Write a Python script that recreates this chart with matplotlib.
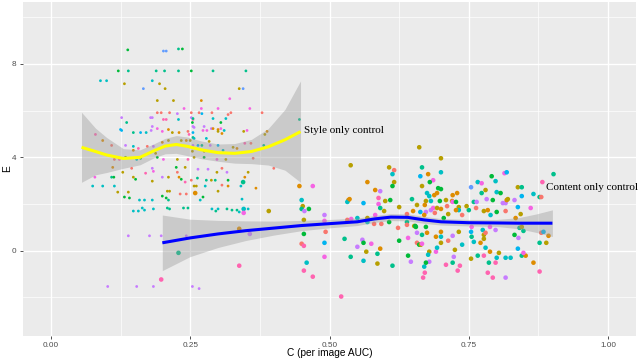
import matplotlib
matplotlib.use("Agg")
import matplotlib.pyplot as plt
import numpy as np

palette = ["#F8766D", "#DE8C00", "#B79F00", "#7CAE00", "#00BA38", "#00C08B",
           "#00BFC4", "#00B4F0", "#619CFF", "#C77CFF", "#F564E3", "#FF64B0"]

# ---- style-only points (small) ----
style_x = [0.138,0.202,0.207,0.229,0.236,0.121,0.139,0.189,0.204,0.229,0.252,0.291,0.350,0.089,0.100,
 0.132,0.182,0.195,0.166,0.205,0.338,0.345,0.191,0.220,0.270,0.321,0.239,0.270,0.300,0.357,
 0.191,0.198,0.213,0.227,0.252,0.266,0.289,0.323,0.318,0.379,0.271,0.127,0.179,0.182,0.202,
 0.207,0.229,0.252,0.255,0.255,0.291,0.314,0.136,0.254,0.305,0.446,0.182,0.191,0.211,0.125,
 0.255,0.275,0.288,0.305,0.300,
 0.127,0.148,0.161,0.171,0.180,0.200,0.218,0.230,0.246,0.255,0.248,0.080,0.093,0.109,0.134,
 0.148,0.157,0.173,0.184,0.200,0.211,0.234,0.243,0.250,0.255,0.148,0.188,0.134,0.123,0.114,
 0.154,0.161,0.191,0.202,0.227,0.246,0.111,0.145,0.182,0.184,0.129,0.225,0.241,0.227,0.264,
 0.079,0.109,0.113,0.148,0.152,0.170,0.182,0.211,0.230,0.234,0.252,0.241,0.200,0.075,0.093,
 0.114,0.120,0.139,0.209,0.213,0.257,0.132,0.141,0.159,0.168,0.182,0.200,0.207,0.211,0.232,
 0.243,0.148,0.157,0.164,0.168,0.184,0.209,0.213,0.238,0.246,
 0.257,0.273,0.280,0.291,0.300,0.311,0.307,0.346,0.352,0.388,0.384,0.257,0.279,0.284,0.255,
 0.264,0.271,0.286,0.300,0.309,0.327,0.334,0.348,0.359,0.382,0.254,0.275,0.275,0.257,0.298,
 0.314,0.363,0.282,0.298,0.307,0.316,0.354,0.400,0.263,0.279,0.288,0.295,0.318,0.348,0.307,
 0.318,0.341,0.261,0.277,0.300,0.368,0.273,0.268,0.343,0.289,0.296,0.300,0.316,0.325,0.334,
 0.338,0.354,
 0.139,0.177,0.198,0.243,0.102,0.154,0.184,0.254,0.266]
style_y = [8.60,8.55,8.55,8.64,8.64,7.70,7.70,7.70,7.70,7.70,7.70,7.70,7.70,7.28,7.28,
 7.15,7.28,7.15,6.94,6.94,6.94,6.94,6.43,6.43,6.43,6.51,6.09,6.09,6.09,6.09,
 5.91,5.91,5.91,5.87,5.91,5.91,5.91,5.91,5.83,5.91,5.87,5.70,5.70,5.70,5.62,
 5.62,5.62,5.70,5.62,5.66,5.66,5.66,5.49,5.49,5.49,5.62,5.32,5.23,5.19,5.19,
 5.32,5.32,5.23,5.23,5.19,
 5.15,5.06,5.06,5.06,5.15,5.11,5.06,5.06,5.11,5.06,4.98,4.98,4.72,4.51,4.51,
 4.47,4.38,4.47,4.47,4.64,4.72,4.72,4.72,4.72,4.85,4.30,4.17,4.00,3.91,3.91,
 3.91,3.96,4.00,3.91,3.91,3.91,3.57,3.53,3.53,3.40,3.36,3.57,3.57,3.36,3.49,
 3.15,3.15,3.15,3.15,3.06,3.32,2.98,3.15,3.15,3.06,3.02,2.94,3.15,2.77,2.77,
 2.77,2.51,2.51,2.55,2.55,2.77,2.30,2.26,2.17,2.17,2.17,2.34,2.26,2.17,2.43,
 2.43,1.70,1.70,1.83,1.74,1.79,1.83,1.79,1.83,1.83,
 5.28,5.15,5.15,5.23,5.11,5.15,5.02,5.11,5.15,5.11,4.98,4.81,4.81,4.68,4.51,
 4.51,4.51,4.51,4.51,4.30,4.43,4.38,4.60,4.60,4.51,4.26,4.26,4.00,4.00,3.91,
 3.91,3.96,3.49,3.36,3.53,3.36,3.36,3.53,3.11,3.02,3.02,3.02,3.02,3.15,2.81,
 2.77,2.77,2.77,2.77,2.55,2.68,2.30,2.17,2.21,1.79,1.70,1.79,1.79,1.74,1.74,
 1.66,1.79,
 0.64,0.64,0.64,0.64,-1.53,-1.53,-1.53,-1.53,-1.62]
style_g = [4,8,8,5,4,4,5,5,5,5,4,5,5,6,6,
 2,6,2,8,2,2,8,2,2,1,10,10,10,10,10,
 0,0,0,9,0,0,0,0,0,0,7,9,9,9,11,
 11,6,9,11,5,6,6,5,4,4,5,9,10,1,7,
 9,9,9,10,1,
 7,5,7,6,9,10,2,1,0,7,11,11,1,0,9,
 6,11,0,9,1,2,2,1,2,5,1,2,3,11,0,
 6,4,4,10,2,11,1,0,9,10,2,4,2,0,9,
 10,5,4,2,4,11,2,2,1,4,0,11,9,6,6,
 6,2,2,2,2,2,4,4,6,6,6,4,4,5,0,
 0,6,6,6,6,6,5,5,5,5,
 9,10,10,1,2,6,1,2,10,1,2,6,6,2,9,
 7,5,9,7,6,2,1,11,0,5,2,2,4,2,10,
 2,0,9,2,0,9,2,0,5,5,2,5,4,1,0,
 1,6,2,6,2,1,4,6,6,6,5,6,5,5,5,
 6,6,
 9,9,9,9,9,9,9,9,9]

# ---- content-only points (larger) ----
content_x = [0.259,0.345,0.346,0.346,0.391,0.338,0.357,0.229,0.198,0.338,0.446,0.470,0.450,0.452,0.450,
 0.463,0.455,0.454,0.454,0.450,0.454,0.459,0.454,0.470,
 0.538,0.607,0.616,0.613,0.661,0.666,0.663,0.616,0.613,0.666,0.568,0.582,0.591,0.534,0.532,
 0.561,0.588,0.600,0.609,0.588,0.591,0.648,0.625,0.598,0.657,0.663,0.491,0.582,0.639,0.650,
 0.491,0.532,0.539,0.550,0.568,0.568,0.607,0.639,0.652,0.655,0.623,0.580,0.593,
 0.700,0.700,0.677,0.686,0.680,0.695,0.700,0.693,0.688,0.675,0.679,0.673,0.682,0.698,0.709,
 0.671,0.673,0.682,0.686,0.693,0.700,0.720,0.721,0.729,0.721,0.727,0.732,0.732,0.738,0.750,
 0.754,0.759,0.764,0.766,0.773,0.773,0.780,0.782,0.793,0.800,0.798,0.791,0.814,0.818,0.807,
 0.811,0.816,0.818,0.820,0.816,0.763,0.777,0.784,0.789,0.800,0.832,0.838,0.845,0.845,0.838,
 0.843,0.834,0.861,0.866,0.877,0.880,0.882,0.902,0.670,0.705,0.536,0.689,0.711,0.713,0.727,
 0.746,0.841,
 0.493,0.491,0.491,0.521,0.527,0.538,0.550,0.559,0.561,0.566,0.575,0.561,0.586,0.591,0.586,
 0.613,0.625,0.641,0.646,0.641,0.657,0.661,0.664,0.666,0.657,0.666,0.675,0.673,0.679,0.677,
 0.691,0.693,0.700,0.691,0.700,0.700,0.679,0.670,0.673,0.671,0.668,0.639,0.654,0.709,0.721,
 0.723,0.725,0.713,0.721,0.732,0.738,0.734,0.730,0.755,0.754,0.755,0.759,0.754,0.766,0.777,
 0.786,0.798,0.788,0.804,0.777,0.777,0.775,0.780,0.771,0.780,0.788,0.798,0.800,0.816,0.825,
 0.784,0.793,0.816,0.832,0.839,0.838,0.845,0.852,0.848,0.845,0.848,0.866,0.877,0.877,0.889,
 0.893,0.880,0.884]
content_y = [2.47,2.94,1.79,1.62,1.70,0.94,0.72,-0.09,-1.23,-0.64,2.77,2.77,2.17,1.91,1.79,
 1.79,1.70,1.32,0.72,0.30,0.21,-0.51,-0.85,-1.11,
 3.66,3.57,3.45,3.28,4.43,3.57,3.19,2.94,2.77,2.77,2.94,2.60,2.55,2.17,2.09,
 2.04,2.26,2.13,2.17,2.00,1.83,2.21,1.87,1.70,1.96,1.66,1.53,1.53,1.57,1.70,
 1.28,1.32,1.36,1.40,1.40,1.23,1.23,1.23,1.06,1.02,0.98,1.15,1.15,
 3.96,3.36,3.28,3.02,2.94,2.68,2.64,2.47,2.38,2.47,2.34,2.13,2.13,2.13,2.17,
 1.96,1.66,1.74,1.83,1.83,1.79,2.13,2.09,2.47,2.38,2.09,1.87,1.74,1.53,1.74,
 2.72,2.09,2.09,2.94,2.89,2.47,2.60,2.21,2.17,2.51,2.98,3.19,3.32,3.36,2.47,
 2.04,2.04,2.17,2.21,1.70,1.83,1.70,1.74,1.53,1.66,2.17,2.72,2.72,2.34,1.87,
 1.57,1.40,1.83,2.43,2.30,2.30,2.94,3.28,1.53,1.40,2.21,1.62,1.91,1.57,1.74,
 1.91,0.98,
 0.81,0.34,-0.26,-1.96,0.51,-0.26,0.17,0.47,0.34,-0.04,0.30,-0.43,-0.13,0.09,-0.55,
 -0.64,0.43,-0.21,-0.47,0.55,0.34,0.26,0.26,0.30,0.77,0.68,0.77,1.02,-0.04,-0.17,
 -0.04,0.13,0.34,0.60,0.60,0.81,-0.47,-0.68,-0.51,-0.94,-1.15,1.11,1.06,-0.60,-0.51,
 -0.26,0.04,0.43,0.64,0.81,0.26,-0.64,-0.85,1.02,0.81,0.60,0.38,-0.34,-0.21,-0.21,
 -0.51,-0.51,-0.04,-0.09,0.68,0.51,0.89,0.77,0.34,0.13,1.02,0.89,-0.30,-0.30,-0.30,
 -0.94,-1.15,-1.15,0.68,0.55,0.09,-0.21,-0.21,-0.09,1.02,0.85,-0.51,-0.89,0.34,0.34,
 0.64,0.77,0.81]
content_g = [1,5,6,10,2,1,9,5,11,11,1,10,6,2,5,
 4,9,2,4,0,11,6,11,11,
 2,2,0,6,2,5,7,2,4,2,1,1,9,1,6,
 7,11,2,4,10,5,5,2,2,2,7,9,10,0,1,
 10,0,10,6,2,6,4,5,2,4,0,0,0,
 2,6,1,10,4,4,4,1,1,6,6,2,6,4,2,
 1,9,9,10,2,1,1,10,1,1,4,2,6,0,5,
 8,5,9,6,10,5,2,9,4,6,6,4,10,7,4,
 9,9,1,2,0,0,2,1,6,4,9,2,5,7,7,
 2,1,10,6,5,0,11,5,1,4,1,0,0,2,1,
 2,5,
 0,7,10,11,5,5,9,9,4,2,10,6,5,1,2,
 5,4,4,9,10,0,4,2,10,9,5,1,4,2,6,
 10,6,2,1,6,1,9,6,4,11,11,0,4,11,5,
 9,2,0,9,2,6,11,11,10,7,5,6,2,5,11,
 5,11,1,2,2,2,6,0,1,6,10,9,6,6,6,
 11,11,9,4,9,7,5,1,10,2,5,1,11,5,2,
 1,0,7]

# ---- loess fits ----
style_fit_x = [0.055,0.08,0.10,0.13,0.16,0.185,0.205,0.225,0.245,0.27,0.30,0.33,0.36,0.39,0.42,0.448]
style_fit_y = [4.43,4.25,4.10,3.95,4.00,4.28,4.48,4.55,4.47,4.32,4.20,4.17,4.25,4.45,4.75,5.10]
style_fit_se = [1.50,1.00,0.75,0.42,0.32,0.30,0.33,0.38,0.40,0.38,0.37,0.42,0.52,0.78,1.30,2.17]

content_fit_x = [0.20,0.25,0.30,0.35,0.40,0.45,0.50,0.55,0.58,0.61,0.64,0.67,0.70,0.75,0.80,0.84,0.87,0.90]
content_fit_y = [0.34,0.55,0.72,0.86,0.97,1.08,1.16,1.24,1.36,1.44,1.43,1.32,1.24,1.20,1.19,1.18,1.18,1.18]
content_fit_se = [1.19,0.80,0.58,0.42,0.30,0.22,0.18,0.16,0.15,0.15,0.15,0.15,0.14,0.14,0.15,0.24,0.39,0.57]

x_ticks = [0.00, 0.25, 0.50, 0.75, 1.00]
x_ticklabels = ["0.00", "0.25", "0.50", "0.75", "1.00"]
y_ticks = [0, 4, 8]
y_ticklabels = ["0", "4", "8"]

fig = plt.figure(figsize=(6.4, 3.62), dpi=100)
ax = fig.add_axes([23/640, 26/362, 613/640, 334/362])
ax.set_facecolor("#EBEBEB")
for s in ax.spines.values():
    s.set_visible(False)

ax.set_xlim(-0.05, 1.05)
ax.set_ylim(-3.65, 10.65)
ax.set_xticks(x_ticks)
ax.set_xticklabels(x_ticklabels)
ax.set_yticks(y_ticks)
ax.set_yticklabels(y_ticklabels)
ax.set_xticks([0.125, 0.375, 0.625, 0.875], minor=True)
ax.set_yticks([-2, 2, 6, 10], minor=True)
ax.grid(which="major", color="white", linewidth=1.0)
ax.grid(which="minor", color="white", linewidth=0.5)
ax.set_axisbelow(True)
ax.tick_params(which="major", length=2.5, width=0.6, color="#333333",
               labelcolor="#4D4D4D", labelsize=5.9, pad=2)
ax.tick_params(which="minor", length=0)
for lab in ax.get_xticklabels() + ax.get_yticklabels():
    lab.set_family("Liberation Sans")

sc = [palette[g] for g in style_g]
cc = [palette[g] for g in content_g]
ax.scatter(style_x, style_y, s=4, c=sc, linewidths=0, zorder=2)
ax.scatter(content_x, content_y, s=11, c=cc, linewidths=0, zorder=2)

sfx = np.array(style_fit_x); sfy = np.array(style_fit_y); sse = np.array(style_fit_se)
cfx = np.array(content_fit_x); cfy = np.array(content_fit_y); cse = np.array(content_fit_se)
ax.fill_between(sfx, sfy - sse, sfy + sse, color="#999999", alpha=0.4, linewidth=0, zorder=3)
ax.fill_between(cfx, cfy - cse, cfy + cse, color="#999999", alpha=0.4, linewidth=0, zorder=3)
ax.plot(sfx, sfy, color="#FFFF00", linewidth=2.2, zorder=4, solid_capstyle="butt")
ax.plot(cfx, cfy, color="#0000FF", linewidth=2.2, zorder=4, solid_capstyle="butt")

ax.text(0.454, 5.15, "Style only control", family="Liberation Serif", fontsize=8,
        ha="left", va="center", color="black")
ax.text(0.889, 2.72, "Content only control", family="Liberation Serif", fontsize=8,
        ha="left", va="center", color="black", clip_on=False)

fig.text(330/640, 1 - 353/362, "C (per image AUC)", family="Liberation Sans",
         fontsize=7.3, ha="center", va="center")
fig.text(7.5/640, 1 - 169/362, "E", family="Liberation Sans", fontsize=7.3,
         rotation=90, ha="center", va="center")

fig.savefig("out.png", dpi=100)
